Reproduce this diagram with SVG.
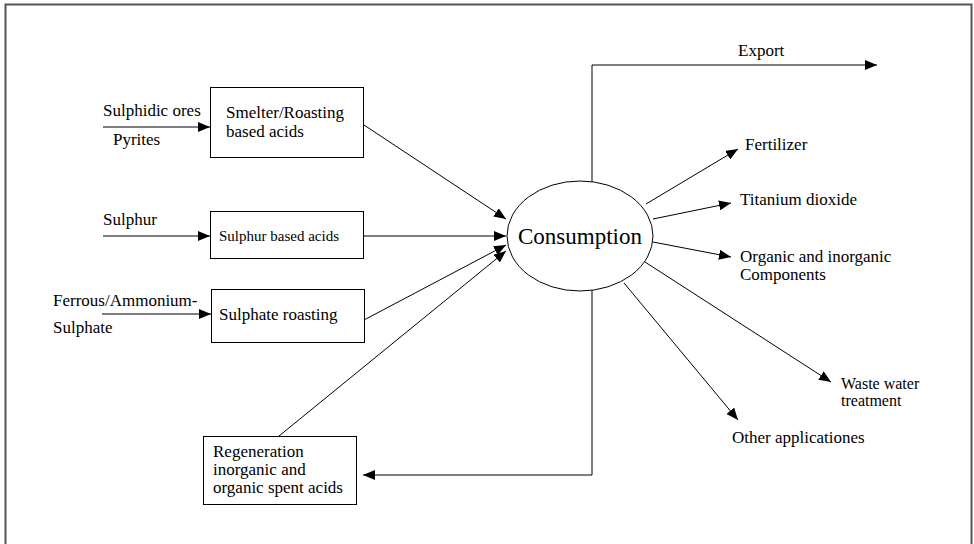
<svg xmlns="http://www.w3.org/2000/svg" width="974" height="544" viewBox="0 0 974 544">
<defs>
<marker id="ah" viewBox="0 0 12 10" refX="12" refY="5" markerWidth="12" markerHeight="10" markerUnits="userSpaceOnUse" orient="auto">
<path d="M0,0 L12,5 L0,10 Z" fill="#000"/>
</marker>
</defs>
<style>
text{font-family:"Liberation Serif","Times New Roman",serif;font-size:17px;fill:#000}
.big{font-size:23px}
.box{fill:#fff;stroke:#000;stroke-width:1}
.c{fill:none;stroke:#000;stroke-width:1}
.a{marker-end:url(#ah)}
</style>
<rect width="974" height="544" fill="#fff"/>
<path d="M5.5,544 V4.5 H971.5 V544" fill="none" stroke="#555" stroke-width="2"/>

<g id="connectors">
<line class="c a" x1="103" y1="127" x2="210" y2="127"/>
<line class="c a" x1="103" y1="236" x2="210" y2="236"/>
<line class="c a" x1="102" y1="314" x2="211" y2="314"/>
<line class="c a" x1="364" y1="125" x2="506" y2="219"/>
<line class="c a" x1="363" y1="236" x2="506" y2="236"/>
<line class="c a" x1="364" y1="320" x2="506" y2="245"/>
<line class="c a" x1="279" y1="436" x2="506" y2="251"/>
<polyline class="c a" points="592,182 592,65 877,65"/>
<polyline class="c a" points="592,289 592,475 363,475"/>
<line class="c a" x1="646" y1="204" x2="738" y2="149"/>
<line class="c a" x1="653" y1="219" x2="731" y2="203"/>
<line class="c a" x1="653" y1="242" x2="731" y2="257"/>
<line class="c a" x1="645" y1="262" x2="831" y2="382"/>
<line class="c a" x1="624" y1="283" x2="738" y2="420"/>
</g>

<g id="in-sulphidic">
<text x="103" y="116">Sulphidic ores</text>
<text x="113" y="145">Pyrites</text>
</g>
<g id="in-sulphur">
<text x="103" y="225">Sulphur</text>
</g>
<g id="in-ferrous">
<text x="53" y="306">Ferrous/Ammonium-</text>
<text x="53" y="333">Sulphate</text>
</g>

<g id="smelter">
<rect class="box" x="210.5" y="87.5" width="153" height="70"/>
<text x="226" y="118">Smelter/Roasting</text>
<text x="226" y="137">based acids</text>
</g>
<g id="sulphur-acids">
<rect class="box" x="210.5" y="211.5" width="153" height="47"/>
<text x="219" y="241" style="font-size:15px">Sulphur based acids</text>
</g>
<g id="sulphate-roasting">
<rect class="box" x="211.5" y="289.5" width="153" height="53"/>
<text x="219" y="320">Sulphate roasting</text>
</g>
<g id="regeneration">
<rect class="box" x="203.5" y="436.5" width="153" height="68"/>
<text x="213" y="457">Regeneration</text>
<text x="213" y="475">inorganic and</text>
<text x="213" y="493">organic spent acids</text>
</g>

<g id="consumption">
<ellipse cx="580" cy="236" rx="73" ry="55" fill="#fff" stroke="#000" stroke-width="1"/>
<text class="big" x="580" y="244" text-anchor="middle">Consumption</text>
</g>

<g id="export"><text x="738" y="56">Export</text></g>
<g id="fertilizer"><text x="745" y="150">Fertilizer</text></g>
<g id="titanium"><text x="740" y="205">Titanium dioxide</text></g>
<g id="organic">
<text x="740" y="262">Organic and inorganic</text>
<text x="740" y="280">Components</text>
</g>
<g id="waste">
<text x="841" y="389" style="font-size:16px">Waste water</text>
<text x="841" y="406" style="font-size:16px">treatment</text>
</g>
<g id="other"><text x="732" y="443">Other applicationes</text></g>
</svg>
